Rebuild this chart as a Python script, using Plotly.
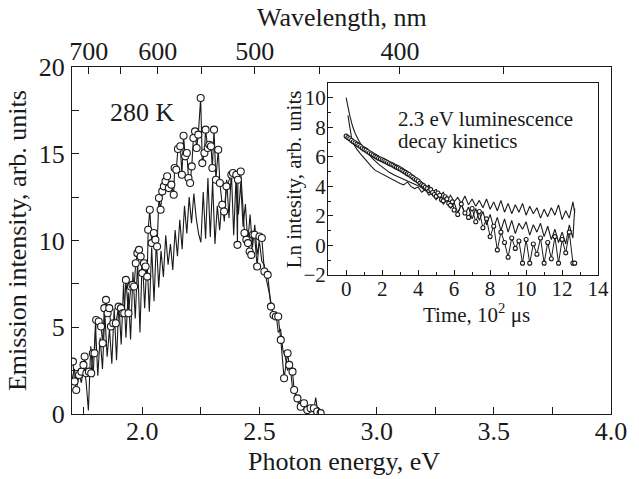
import plotly.graph_objects as go

# ---------------- main spectrum (photon energy, eV / emission intensity) -------------
E_circ = [1.704, 1.711, 1.718, 1.730, 1.740, 1.749, 1.754, 1.761, 1.772, 1.782,
          1.789, 1.796, 1.803, 1.814, 1.824, 1.831, 1.838, 1.845, 1.852, 1.859,
          1.866, 1.876, 1.887, 1.899, 1.909, 1.916, 1.923, 1.930, 1.941, 1.951,
          1.958, 1.965, 1.972, 1.979, 1.986, 1.993, 2.000, 2.007, 2.014, 2.021,
          2.025, 2.032, 2.040, 2.049, 2.056, 2.063, 2.071, 2.078, 2.085, 2.092,
          2.099, 2.106, 2.113, 2.124, 2.134, 2.138, 2.145, 2.152, 2.162, 2.169,
          2.176, 2.183, 2.190, 2.197, 2.204, 2.211, 2.218, 2.225, 2.232, 2.239,
          2.249, 2.256, 2.265, 2.270, 2.279, 2.286, 2.293, 2.299, 2.306, 2.314,
          2.324, 2.331, 2.341, 2.349, 2.359, 2.380, 2.387, 2.401, 2.406, 2.408,
          2.420, 2.436, 2.444, 2.451, 2.458, 2.465, 2.472, 2.479, 2.490, 2.500,
          2.510, 2.521, 2.535, 2.549, 2.560, 2.570, 2.580, 2.591, 2.605, 2.620,
          2.627, 2.641, 2.648, 2.662, 2.676, 2.690, 2.704, 2.718, 2.732, 2.746,
          2.761]
I_circ = [3.02, 1.87, 1.38, 2.25, 2.44, 2.83, 3.31, 2.35, 2.44, 2.35,
          3.50, 3.50, 5.42, 5.33, 5.04, 4.08, 6.10, 6.58, 5.81, 6.10,
          5.04, 5.23, 5.23, 6.19, 6.10, 5.81, 5.81, 7.73, 5.81, 7.35,
          7.44, 7.35, 8.69, 9.27, 9.46, 9.08, 8.12, 8.69, 8.50, 7.92,
          10.62, 11.77, 9.85, 10.43, 10.04, 9.65, 12.45, 11.77, 12.83, 13.12,
          13.41, 13.70, 13.02, 13.22, 12.64, 14.18, 14.08, 15.27, 15.43, 13.79,
          16.04, 14.85, 15.04, 13.60, 13.31, 14.27, 15.91, 16.29, 15.33, 16.10,
          18.21, 14.46, 15.04, 16.39, 15.33, 15.52, 15.43, 14.18, 16.39, 13.50,
          15.23, 13.31, 12.06, 11.67, 13.12, 13.79, 13.89, 13.79, 9.75, 13.50,
          13.98, 10.43, 10.04, 9.85, 9.37, 9.17, 10.33, 10.33, 8.50, 10.23,
          10.14, 8.21, 8.02, 6.19, 5.71, 5.62, 5.62, 4.27, 2.06, 3.50,
          2.83, 2.44, 1.38, 0.90, 0.42, 0.62, 0.23, 0.33, 0.33, 0.14,
          0.05]

E_line = [1.70, 1.71, 1.72, 1.73, 1.74, 1.75, 1.76, 1.77, 1.78, 1.79,
          1.80, 1.81, 1.82, 1.83, 1.84, 1.85, 1.86, 1.87, 1.88, 1.89,
          1.90, 1.91, 1.92, 1.93, 1.94, 1.95, 1.96, 1.97, 1.98, 1.99,
          2.00, 2.01, 2.02, 2.03, 2.04, 2.05, 2.06, 2.07, 2.08, 2.09,
          2.10, 2.11, 2.12, 2.13, 2.14, 2.15, 2.16, 2.17, 2.18, 2.19,
          2.20, 2.21, 2.22, 2.23, 2.24, 2.25, 2.26, 2.27, 2.28, 2.29,
          2.30, 2.31, 2.32, 2.33, 2.34, 2.35, 2.36, 2.37, 2.38, 2.39,
          2.40, 2.41, 2.42, 2.43, 2.44, 2.45, 2.46, 2.47, 2.48, 2.49,
          2.50, 2.51, 2.52, 2.53, 2.54, 2.55, 2.56, 2.57, 2.58, 2.59,
          2.60, 2.61, 2.62, 2.63, 2.64, 2.65, 2.66, 2.67, 2.68, 2.69,
          2.70, 2.71, 2.72, 2.73, 2.74, 2.75]
I_line = [2.0, 2.6, 1.7, 2.3, 1.8, 2.7, 1.9, 0.2, 3.9, 2.1,
          5.2, 2.2, 4.4, 2.6, 5.8, 3.3, 4.9, 2.9, 6.1, 3.1,
          6.4, 4.0, 7.5, 4.4, 7.0, 4.3, 8.2, 5.5, 8.8, 4.7,
          9.2, 6.1, 8.9, 5.9, 9.6, 6.5, 10.0, 7.3, 9.4, 7.9,
          10.3, 8.6, 9.8, 8.3, 10.6, 9.1, 11.2, 9.5, 12.0, 10.4,
          12.5, 11.0, 12.7, 11.3, 10.4, 9.9, 12.8, 10.1, 13.6, 10.2,
          13.4, 9.8, 12.0, 10.6, 12.3, 11.1, 13.5, 11.3, 14.0, 10.3,
          13.6, 11.5, 13.3, 10.8, 12.1, 9.9, 11.5, 9.6, 10.9, 9.2,
          9.9, 8.8, 8.6, 7.7, 7.1, 6.3, 5.6, 5.9, 4.7, 4.9,
          3.7, 3.3, 2.5, 2.9, 1.6, 1.2, 0.8, 0.5, 0.7, 0.2,
          0.4, 0.1, 0.3, 0.1, 0.95, 0.0]

# top axis: wavelength ticks (nm), positioned at E = hc / lambda
HC = 1239.84
wl_major = [700, 600, 500, 400]
wl_major_labels = ["700", "600", "500", "400"]
wl_minor = [650, 550, 450, 350]

# ---------------- inset: decay kinetics (time, 10^2 us / ln intensity) ---------------
t_circ = [0.0, 0.1, 0.2, 0.3, 0.4, 0.5, 0.6, 0.7, 0.8, 0.9,
          1.0, 1.1, 1.2, 1.3, 1.4, 1.5, 1.6, 1.7, 1.8, 1.9,
          2.0, 2.1, 2.2, 2.3, 2.4, 2.5, 2.6, 2.7, 2.8, 2.9,
          3.0, 3.1, 3.2, 3.3, 3.4, 3.5, 3.6, 3.7, 3.8, 3.9,
          4.0, 4.1, 4.2, 4.3, 4.4, 4.5, 4.6, 4.7, 4.8, 4.9,
          5.0, 5.1, 5.2, 5.3, 5.4, 5.5, 5.6, 5.7, 5.8, 5.9,
          6.0, 6.2, 6.4, 6.6, 6.8, 7.0, 7.2, 7.4, 7.6, 7.8,
          8.0, 8.2, 8.4, 8.6, 8.8, 9.0, 9.2, 9.4, 9.6, 9.8,
          10.0, 10.2, 10.4, 10.6, 10.8, 11.0, 11.2, 11.4, 11.6, 11.8,
          12.0, 12.2, 12.4, 12.6, 12.7]
ln_circ = [7.40, 7.30, 7.22, 7.12, 7.02, 6.95, 6.86, 6.78, 6.70, 6.60,
           6.52, 6.45, 6.36, 6.28, 6.20, 6.12, 6.05, 5.98, 5.90, 5.85,
           5.80, 5.74, 5.68, 5.62, 5.55, 5.50, 5.44, 5.36, 5.30, 5.25,
           5.18, 5.10, 5.02, 4.95, 4.86, 4.80, 4.70, 4.62, 4.52, 4.45,
           4.36, 4.22, 4.12, 4.05, 3.94, 3.85, 3.70, 3.78, 3.58, 3.45,
           3.32, 3.55, 3.40, 3.10, 3.02, 3.30, 3.15, 2.85, 2.72, 2.95,
           2.40, 2.10, 2.80, 2.20, 1.90, 2.50, 1.60, 2.30, 1.20, 1.80,
           0.60, 1.30, -0.30, 0.90, 0.20, -0.80, 0.50, -0.20, 0.30, -1.20,
           0.40, -1.20, 0.10, -0.60, 0.50, -1.20, 0.20, -0.90, 0.60, -1.20,
           0.40, -0.50, 0.90, -1.20, -1.20]

t_a = [0.0, 0.1, 0.2, 0.35, 0.5, 0.7, 0.9, 1.1, 1.3, 1.5,
       1.8, 2.1, 2.4, 2.7, 3.0, 3.3, 3.6, 3.9, 4.2, 4.4,
       4.6, 4.8, 5.0, 5.2, 5.4, 5.6, 5.8, 6.0, 6.2, 6.4,
       6.6, 6.8, 7.0, 7.2, 7.4, 7.6, 7.8, 8.0, 8.2, 8.4,
       8.6, 8.8, 9.0, 9.2, 9.4, 9.6, 9.8, 10.0, 10.2, 10.4,
       10.6, 10.8, 11.0, 11.2, 11.4, 11.6, 11.8, 12.0, 12.2, 12.4,
       12.6, 12.7]
ln_a = [10.0, 9.3, 8.8, 8.1, 7.6, 7.1, 6.7, 6.4, 6.1, 5.85,
        5.5, 5.2, 4.95, 4.75, 4.6, 4.45, 4.3, 4.1, 3.9, 3.7,
        4.1, 3.6, 3.8, 3.35, 3.6, 3.05, 3.4, 2.95, 3.25, 2.85,
        3.35, 2.75, 3.15, 2.65, 3.05, 2.55, 3.15, 2.45, 2.95, 2.35,
        3.05, 2.25, 2.85, 2.15, 2.75, 2.25, 2.85, 2.05, 2.65, 2.15,
        2.55, 1.85, 2.45, 1.95, 2.55, 2.05, 2.75, 1.75, 2.35, 1.85,
        2.95, 2.2]

t_b = [0.1, 0.2, 0.3, 0.45, 0.6, 0.8, 1.0, 1.2, 1.4, 1.6,
       1.9, 2.2, 2.5, 2.8, 3.0, 3.2, 3.4, 3.6, 3.8, 4.0,
       4.2, 4.4, 4.6, 4.8, 5.0, 5.2, 5.4, 5.6, 5.8, 6.0,
       6.2, 6.4, 6.6, 6.8, 7.0, 7.2, 7.4, 7.6, 7.8, 8.0,
       8.2, 8.4, 8.6, 8.8, 9.0, 9.2, 9.4, 9.6, 9.8, 10.0,
       10.2, 10.4, 10.6, 10.8, 11.0, 11.2, 11.4, 11.6, 11.8, 12.0,
       12.2, 12.4, 12.6, 12.7]
ln_b = [8.8, 7.9, 7.3, 6.8, 6.5, 6.2, 5.9, 5.6, 5.35, 5.1,
        4.9, 4.7, 4.5, 4.35, 4.2, 4.1, 4.3, 4.0, 3.85, 3.95,
        3.6, 3.8, 3.4, 3.6, 3.1, 3.4, 2.8, 3.1, 2.5, 2.9,
        2.2, 2.8, 2.1, 2.6, 1.8, 2.5, 1.7, 2.3, 1.4, 2.1,
        1.2, 1.9, 1.0, 1.8, 0.9, 1.7, 0.8, 1.5, 1.1, 1.6,
        0.7, 1.4, 0.9, 1.5, 0.6, 1.3, 0.4, 1.1, 0.2, 0.9,
        0.1, 1.4, 0.5, 2.5]

# ---------------- figure ----------------
INK = "#1a1a1a"
FONT = "Liberation Serif"

fig = go.Figure()

fig.add_trace(go.Scatter(x=E_line, y=I_line, mode="lines",
                         line=dict(color=INK, width=1.1),
                         xaxis="x", yaxis="y", showlegend=False, hoverinfo="skip"))
fig.add_trace(go.Scatter(x=E_circ, y=I_circ, mode="lines+markers",
                         line=dict(color=INK, width=1.1),
                         marker=dict(symbol="circle", size=7, color="white",
                                     line=dict(color=INK, width=1.1)),
                         xaxis="x", yaxis="y", showlegend=False, hoverinfo="skip"))
# invisible traces so that the top wavelength axes are drawn
fig.add_trace(go.Scatter(x=E_line, y=I_line, mode="lines", opacity=0,
                         xaxis="x2", yaxis="y", showlegend=False, hoverinfo="skip"))
fig.add_trace(go.Scatter(x=E_line, y=I_line, mode="lines", opacity=0,
                         xaxis="x4", yaxis="y", showlegend=False, hoverinfo="skip"))

# inset traces
fig.add_trace(go.Scatter(x=t_a, y=ln_a, mode="lines",
                         line=dict(color=INK, width=1.1),
                         xaxis="x3", yaxis="y3", showlegend=False, hoverinfo="skip"))
fig.add_trace(go.Scatter(x=t_b, y=ln_b, mode="lines",
                         line=dict(color=INK, width=1.1),
                         xaxis="x3", yaxis="y3", showlegend=False, hoverinfo="skip"))
fig.add_trace(go.Scatter(x=t_circ, y=ln_circ, mode="lines+markers",
                         line=dict(color=INK, width=1.0),
                         marker=dict(symbol="circle", size=4, color="white",
                                     line=dict(color=INK, width=1.1)),
                         xaxis="x3", yaxis="y3", showlegend=False, hoverinfo="skip"))

axis_common = dict(showgrid=False, zeroline=False, showline=True,
                   linecolor=INK, linewidth=1.3, ticks="inside",
                   tickcolor=INK, tickwidth=1.2)

main_tick_font = dict(family=FONT, size=26, color=INK)
inset_tick_font = dict(family=FONT, size=21, color=INK)

fig.update_layout(
    width=639, height=479,
    margin=dict(l=72, r=22, t=67, b=65, pad=0),
    paper_bgcolor="white", plot_bgcolor="white",
    font=dict(family=FONT, color=INK),
    xaxis=dict(**axis_common, domain=[0, 1], range=[1.7, 4.0], anchor="y",
               tick0=2.0, dtick=0.5, tickformat=".1f", ticklen=7,
               minor=dict(dtick=0.25, ticks="inside", ticklen=7, tickcolor=INK, tickwidth=1.2),
               tickfont=main_tick_font, ticklabelstandoff=-6),
    xaxis2=dict(**axis_common, overlaying="x", side="top", anchor="y",
                range=[1.7, 4.0], ticklen=7,
                tickmode="array", tickvals=[HC / w for w in wl_major],
                ticktext=wl_major_labels,
                tickfont=main_tick_font, ticklabelstandoff=-5),
    xaxis4=dict(**axis_common, overlaying="x", side="top", anchor="y",
                range=[1.7, 4.0], ticklen=7, showticklabels=False,
                tickmode="array", tickvals=[HC / w for w in wl_minor]),
    yaxis=dict(**axis_common, domain=[0, 1], range=[0, 20], anchor="x",
               tick0=0, dtick=5, ticklen=7, mirror=True,
               minor=dict(dtick=2.5, ticks="inside", ticklen=7, tickcolor=INK, tickwidth=1.2),
               tickfont=main_tick_font, ticklabelstandoff=1),
    xaxis3=dict(**axis_common, domain=[0.4752, 0.9761], anchor="y3",
                range=[-1, 14], tick0=0, dtick=2, ticklen=5, mirror=True,
                minor=dict(dtick=1, ticks="inside", ticklen=3, tickcolor=INK, tickwidth=1),
                tickfont=inset_tick_font, ticklabelstandoff=-5),
    yaxis3=dict(**axis_common, domain=[0.4006, 0.954], anchor="x3",
                range=[-2, 11], tick0=0, dtick=2, ticklen=5, mirror=True,
                minor=dict(dtick=1, ticks="inside", ticklen=3, tickcolor=INK, tickwidth=1),
                tickfont=inset_tick_font, ticklabelstandoff=-3),
)

def note(text, x, y, size, xanchor="center", yanchor="middle", angle=0):
    fig.add_annotation(text=text, x=x, y=y, xref="paper", yref="paper",
                       xanchor=xanchor, yanchor=yanchor, textangle=angle,
                       showarrow=False, font=dict(family=FONT, size=size, color=INK))

note("Photon energy, eV", 0.505, -0.137, 26)
note("Wavelength, nm", 0.50, 1.144, 26)
note("Emission intensity, arb. units", -0.101, 0.5, 26, angle=-90)
note("280 K", 0.066, 0.870, 26, xanchor="left")
note("Ln intesity, arb. units", 0.4123, 0.677, 21, angle=-90)
note("Time, 10<sup>2</sup> μs", 0.7505, 0.291, 21)
note("2.3 eV luminescence", 0.6018, 0.850, 21, xanchor="left")
note("decay kinetics", 0.6018, 0.787, 21, xanchor="left")

fig.write_html("out.html")
